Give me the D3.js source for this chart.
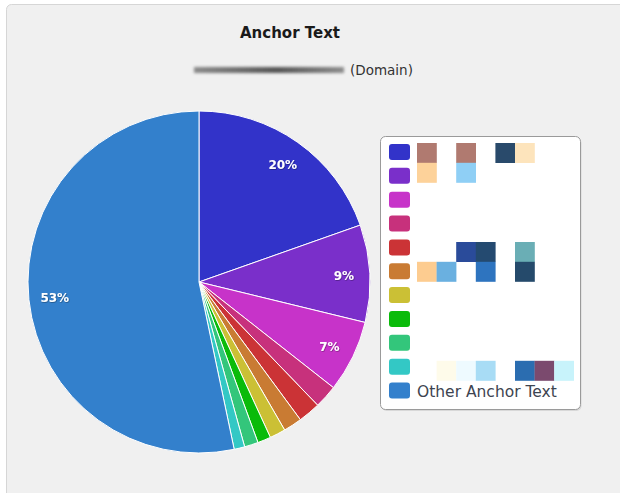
<!DOCTYPE html>
<html><head><meta charset="utf-8">
<script src="https://cdn.jsdelivr.net/npm/d3@7"></script>
<style>
html,body{margin:0;padding:0;background:#fff;}
svg{display:block;}
</style></head>
<body>
<script>
// ---- data ----
const categories = ["", "", "", "", "", "", "", "", "", "", "Other Anchor Text"];
const values = [19.6, 9.2, 6.8, 2.2, 2.1, 1.75, 1.5, 1.25, 1.3, 1.0, 53.3];
const colors = ["#3233c9", "#7a2fca", "#c733c9", "#c7317c", "#cb3336", "#c97b33", "#cbc035", "#0abb0a", "#33c67b", "#33c8c5", "#3380cc"];
const titleText = "Anchor Text";
const subtitleText = "(Domain)";
// pixelated (redacted) legend label cells: [column, row, colour]
const redactedCells = [
  [0,0,"#b07a70"],[2,0,"#b07a70"],[4,0,"#294a6b"],[5,0,"#fde4bc"],
  [0,1,"#fdd29a"],[2,1,"#8fcff5"],
  [2,5,"#2a4b9a"],[3,5,"#244a70"],[5,5,"#6aaeb5"],
  [0,6,"#fdcc90"],[1,6,"#6ab0e0"],[3,6,"#2e74bf"],[5,6,"#254a6b"],
  [1,11,"#fefbea"],[2,11,"#eefaff"],[3,11,"#a8dcf5"],[5,11,"#2b6db0"],[6,11,"#7b4a6e"],[7,11,"#c8f3fb"]
];

const W = 620, H = 493;
const svg = d3.select("body").append("svg").attr("width", W).attr("height", H);
const defs = svg.append("defs");
defs.append("filter").attr("id","blur").attr("x","-20%").attr("y","-200%").attr("width","140%").attr("height","500%")
  .append("feGaussianBlur").attr("stdDeviation", 1.8);
const sh = defs.append("filter").attr("id","tshadow").attr("x","-20%").attr("y","-20%").attr("width","140%").attr("height","140%");
sh.append("feDropShadow").attr("dx",0.6).attr("dy",0.6).attr("stdDeviation",0.6).attr("flood-color","#000").attr("flood-opacity",0.45);

// panel
svg.append("rect").attr("x", 6.5).attr("y", 4.5).attr("width", 640).attr("height", 520).attr("rx", 5)
  .attr("fill", "#f0f0f0").attr("stroke", "#d6d6d6");

// title
svg.append("text").attr("x", 290).attr("y", 38).attr("text-anchor","middle")
  .attr("font-family","'DejaVu Sans', Verdana, sans-serif").attr("font-weight","bold").attr("font-size", 15)
  .attr("fill","#1a1a1a").text(titleText);

// blurred (redacted) domain + subtitle
const bl = svg.append("g").attr("filter","url(#blur)");
const grad = defs.append("linearGradient").attr("id","bg1");
grad.append("stop").attr("offset","0%").attr("stop-color","#8a8a8a");
grad.append("stop").attr("offset","55%").attr("stop-color","#555");
grad.append("stop").attr("offset","100%").attr("stop-color","#8c8c8c");
bl.append("rect").attr("x", 194).attr("y", 67).attr("width", 150).attr("height", 6).attr("fill","url(#bg1)");
svg.append("text").attr("x", 350).attr("y", 75)
  .attr("font-family","'DejaVu Sans', Verdana, sans-serif").attr("font-size", 13.5)
  .attr("fill","#333").text(subtitleText);

// pie
const cx = 199, cy = 282, R = 171;
const pie = d3.pie().sort(null).value(d => d);
const arcs = pie(values);
const arc = d3.arc().innerRadius(0).outerRadius(R);
const labelArc = d3.arc().innerRadius(R - 26).outerRadius(R - 26);
const g = svg.append("g").attr("transform", `translate(${cx},${cy})`);
g.selectAll("path").data(arcs).join("path")
  .attr("d", arc).attr("fill", (d,i) => colors[i])
  .attr("stroke", "#fff").attr("stroke-width", 1).attr("stroke-linejoin","round");
g.selectAll("text.lbl").data(arcs.filter(d => d.data >= 5)).join("text")
  .attr("class","lbl")
  .attr("transform", d => `translate(${labelArc.centroid(d)})`)
  .attr("text-anchor","middle").attr("dy","0.45em")
  .attr("font-family","'DejaVu Sans', Verdana, sans-serif").attr("font-size", 12).attr("font-weight","bold")
  .attr("fill","#fff").attr("filter","url(#tshadow)")
  .text(d => Math.round(d.data) + "%");

// legend
const lx = 380.5, ly = 136.5, lw = 200, lh = 273;
svg.append("rect").attr("x", lx + 1).attr("y", ly + 1.5).attr("width", lw).attr("height", lh).attr("rx", 5)
  .attr("fill", "#c8c8c8").attr("opacity", 0.6);
svg.append("rect").attr("x", lx).attr("y", ly).attr("width", lw).attr("height", lh).attr("rx", 5)
  .attr("fill", "#fff").attr("stroke", "#9a9a9a");
const rowY = d3.scalePoint().domain(d3.range(categories.length)).range([152, 390.5]);
const items = svg.append("g").selectAll("g").data(categories).join("g")
  .attr("transform", (d,i) => `translate(389,${rowY(i)})`);
items.append("rect").attr("x", 0).attr("y", -8).attr("width", 21).attr("height", 16).attr("rx", 3)
  .attr("fill", (d,i) => colors[i]);
items.append("text").attr("x", 28).attr("y", 6)
  .attr("font-family","'DejaVu Sans', Verdana, sans-serif").attr("font-size", 15.5)
  .attr("fill","#3d4450").text(d => d);

// redaction mosaic over hidden labels
const cellX = d3.scaleLinear().domain([0, 1]).range([417, 436.6]);
const cellY = d3.scaleLinear().domain([0, 1]).range([143, 162.8]);
svg.append("g").selectAll("rect").data(redactedCells).join("rect")
  .attr("x", d => cellX(d[0])).attr("y", d => cellY(d[1]))
  .attr("width", 19.8).attr("height", 20).attr("fill", d => d[2]);
</script>
</body></html>
